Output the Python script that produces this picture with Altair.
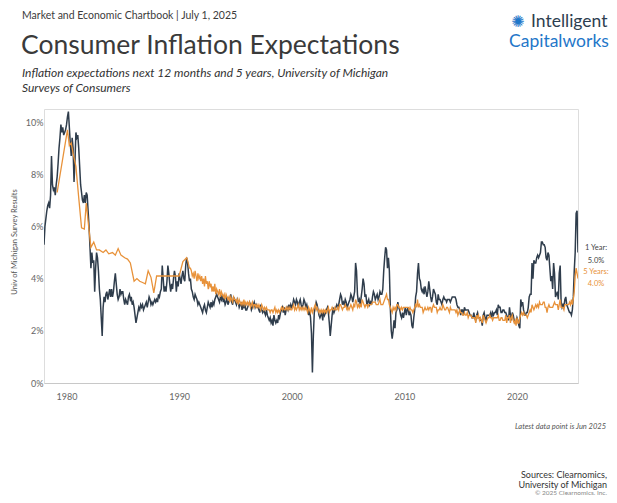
import altair as alt
import pandas as pd

# ---------------- data (University of Michigan survey, % expected inflation) ----------------
one_year_1978_1989 = [
    5.3, 6.0, 6.3, 6.6, 6.8, 6.9, 6.7, 7.2, 8.7, 7.6, 7.4, 7.5,
    7.2, 7.6, 7.9, 8.4, 9.0, 9.4, 9.9, 9.6, 9.8, 9.5, 9.6, 9.7,
    9.9, 10.2, 10.4, 9.8, 9.2, 8.7, 9.4, 9.0, 7.7, 8.5, 9.6, 9.4,
    9.5, 9.0, 8.3, 7.6, 7.3, 7.0, 6.9, 7.2, 6.9, 7.3, 7.2, 6.6,
    6.0, 5.2, 4.4, 5.0, 4.6, 4.7, 3.5, 4.4, 5.0, 4.8, 4.3, 3.6,
    3.2, 2.5, 1.8, 2.9, 3.3, 3.1, 3.4, 3.5, 3.2, 3.4, 3.6, 3.3,
    3.6, 3.3, 3.5, 3.9, 4.2, 3.8, 3.4, 3.2, 3.3, 3.6, 3.4, 3.5,
    3.5, 3.2, 3.0, 3.2, 3.1, 3.0, 3.3, 3.4, 3.2, 3.3, 3.0, 3.1,
    2.9, 2.6, 2.3, 2.5, 2.7, 2.9, 2.8, 3.0, 2.9, 3.0, 2.8, 2.9,
    3.0, 3.1, 2.9, 3.1, 3.3, 3.2, 3.0, 3.1, 3.0, 3.1, 3.2, 3.1,
    3.2, 3.1, 3.4, 3.3, 3.5, 3.6, 4.5, 4.0, 3.5, 3.7, 3.5, 3.9,
    4.5, 4.2, 3.8, 3.5, 3.8, 3.6, 4.0, 4.3, 4.1, 3.5, 3.9, 3.7,
]
one_year_1990_1999 = [
    4.2, 4.0, 3.8, 4.1, 4.3, 4.0, 3.9, 4.5, 4.8, 4.6, 4.2, 3.9,
    4.0, 3.6, 3.5, 3.3, 3.2, 3.4, 3.3, 3.2, 3.0, 3.1, 3.0, 2.9,
    2.8, 2.7, 2.9, 3.0, 2.8, 2.7, 2.9, 3.1, 3.0, 2.9, 3.1, 2.9,
    3.1, 3.0, 3.2, 3.3, 3.4, 3.3, 3.2, 3.1, 3.3, 3.2, 3.4, 3.1,
    3.2, 3.0, 3.1, 3.3, 3.0, 3.1, 3.2, 3.4, 3.1, 3.0, 3.3, 3.2,
    3.1, 3.0, 3.2, 3.1, 2.9, 3.0, 3.1, 2.8, 3.0, 2.9, 3.0, 2.8,
    2.8, 2.9, 3.0, 3.1, 3.0, 2.8, 2.9, 3.0, 3.1, 2.9, 3.0, 2.9,
    2.9, 2.8, 2.7, 3.0, 2.8, 2.7, 2.8, 2.7, 2.6, 2.8, 2.6, 2.5,
    2.4, 2.5, 2.3, 2.4, 2.2, 2.6, 2.4, 2.3, 2.4, 2.3, 2.6, 2.5,
    2.7, 2.8, 2.9, 2.7, 2.9, 2.6, 2.8, 2.9, 2.8, 3.0, 2.8, 3.0,
]
one_year_2000_2009 = [
    2.9, 3.0, 3.2, 3.1, 3.0, 3.2, 3.1, 2.9, 3.1, 3.2, 3.0, 2.9,
    3.0, 3.2, 3.1, 2.9, 3.0, 2.8, 2.6, 2.8, 2.5, 1.9, 0.4, 1.8,
    2.7, 2.9, 3.1, 3.0, 2.8, 2.6, 2.5, 2.6, 2.7, 2.4, 2.8, 2.6,
    2.7, 2.8, 2.9, 2.7, 2.3, 1.8, 2.2, 2.6, 2.9, 2.7, 2.8, 2.9,
    3.0, 2.9, 3.0, 3.2, 3.4, 3.3, 3.0, 3.1, 3.0, 3.2, 3.1, 2.9,
    3.0, 3.1, 3.2, 3.4, 3.3, 3.1, 3.3, 3.5, 4.6, 4.3, 3.4, 3.1,
    3.2, 3.0, 3.3, 3.6, 4.0, 3.8, 3.3, 3.4, 3.0, 3.1, 3.2, 3.0,
    3.1, 3.0, 3.3, 3.5, 3.4, 3.2, 3.3, 3.4, 3.2, 3.3, 3.5, 3.4,
    3.4, 3.6, 4.3, 4.8, 5.2, 5.1, 4.4, 4.8, 4.3, 2.9, 2.0, 1.7,
    2.0, 2.4, 2.1, 2.7, 2.8, 3.1, 2.9, 2.8, 2.6, 2.5, 2.7, 2.5,
]
one_year_2010_2019 = [
    2.7, 2.9, 2.6, 2.8, 2.9, 2.6, 2.7, 2.6, 2.2, 2.1, 2.5, 2.8,
    3.3, 3.5, 4.2, 4.6, 4.0, 3.9, 3.6, 3.5, 3.6, 3.4, 3.7, 3.5,
    3.3, 3.5, 3.9, 3.6, 3.3, 3.1, 3.3, 3.6, 3.5, 3.4, 3.1, 3.0,
    3.4, 3.2, 3.2, 3.1, 3.0, 3.2, 3.3, 3.2, 3.2, 3.1, 3.2, 3.2,
    3.2, 3.1, 3.2, 3.3, 3.3, 3.3, 3.3, 3.2, 3.0, 2.9, 2.9, 2.8,
    2.6, 2.8, 2.8, 2.6, 2.9, 2.8, 2.8, 2.8, 2.8, 2.7, 2.6, 2.6,
    2.5, 2.5, 2.7, 2.5, 2.4, 2.6, 2.7, 2.5, 2.5, 2.4, 2.4, 2.2,
    2.6, 2.7, 2.5, 2.4, 2.6, 2.6, 2.6, 2.6, 2.7, 2.5, 2.7, 2.6,
    2.7, 2.7, 2.8, 2.6, 3.0, 2.9, 2.9, 2.7, 2.7, 2.8, 2.8, 2.7,
    2.7, 2.6, 2.5, 2.4, 2.9, 2.6, 2.4, 2.7, 2.6, 2.4, 2.3, 2.3,
]
one_year_2020_2025 = [
    2.5, 2.4, 2.2, 2.1, 3.2, 3.0, 3.1, 2.8, 2.6, 2.6, 2.7, 2.7,
    2.9, 3.3, 3.4, 3.4, 4.6, 4.0, 4.7, 4.6, 4.6, 4.8, 4.9, 4.8,
    4.9, 5.0, 5.4, 5.4, 5.3, 5.3, 5.2, 4.8, 4.7, 5.0, 4.9, 4.4,
    3.9, 4.1, 3.6, 4.6, 4.2, 3.3, 3.4, 3.5, 3.2, 4.2, 4.5, 3.1,
    2.9, 3.0, 2.9, 3.2, 3.3, 3.0, 2.9, 2.8, 2.7, 2.7, 2.6, 2.8,
    3.3, 4.3, 5.0, 6.5, 6.6, 5.0,
]

# 5-year series: sparse survey months before 1991, monthly afterwards
five_year_sparse_dates = [
    "1979-03", "1980-02", "1980-04", "1980-06", "1980-08", "1980-11",
    "1981-02", "1981-05", "1981-08", "1981-10", "1981-12",
    "1982-03", "1982-06", "1982-09", "1982-12",
    "1983-04", "1983-07", "1983-10",
    "1984-02", "1984-05", "1984-08", "1984-11",
    "1985-03", "1985-06", "1985-09",
    "1986-01", "1986-04", "1986-07", "1986-10",
    "1987-01", "1987-04", "1987-07", "1987-10", "1988-01",
    "1990-01", "1990-05", "1990-09", "1990-10", "1990-12",
]
five_year_sparse_values = [
    7.3, 9.7, 9.1, 9.2, 8.8, 8.3,
    7.1, 5.95, 5.9, 6.9, 6.2,
    5.2, 5.4, 5.1, 5.1,
    5.0, 5.1, 4.95,
    5.0, 4.9, 5.15, 4.9,
    4.8, 4.75, 4.6,
    3.9, 4.0, 3.9, 3.85,
    3.8, 4.3, 4.05, 3.45, 4.1,
    4.1, 4.65, 4.8, 4.7, 4.4,
]
five_year_1991_1999 = [
    4.4, 4.3, 4.1, 4.2, 4.0, 4.3, 4.1, 3.9, 4.2, 4.0, 4.1, 3.9,
    4.1, 3.8, 4.0, 3.7, 4.1, 3.8, 3.9, 3.6, 3.9, 3.7, 3.8, 3.5,
    3.7, 3.5, 3.8, 3.4, 3.6, 3.5, 3.4, 3.6, 3.3, 3.5, 3.4, 3.3,
    3.4, 3.2, 3.4, 3.3, 3.2, 3.3, 3.1, 3.3, 3.2, 3.1, 3.3, 3.2,
    3.2, 3.1, 3.2, 3.0, 3.2, 3.1, 3.0, 3.1, 3.0, 3.2, 3.0, 3.1,
    3.0, 3.1, 3.0, 3.1, 2.9, 3.0, 3.1, 2.9, 3.0, 3.0, 2.9, 3.0,
    2.9, 3.0, 2.9, 2.8, 3.0, 2.9, 2.8, 2.9, 2.8, 2.9, 2.8, 2.8,
    2.8, 2.7, 2.8, 2.8, 2.7, 2.8, 2.9, 2.7, 2.8, 2.7, 2.8, 2.7,
    2.8, 2.9, 2.8, 2.9, 2.8, 2.8, 2.9, 2.8, 2.9, 2.8, 2.9, 2.8,
]
five_year_2000_2009 = [
    2.8, 2.9, 3.0, 2.8, 2.9, 2.8, 2.9, 3.0, 2.8, 2.9, 2.8, 2.9,
    2.8, 2.9, 2.8, 2.9, 2.8, 2.7, 2.9, 2.8, 2.7, 2.9, 2.7, 2.8,
    2.9, 3.0, 2.8, 2.9, 2.8, 2.7, 2.8, 2.7, 2.8, 2.7, 2.8, 2.7,
    2.8, 2.7, 2.8, 2.9, 2.7, 2.8, 2.8, 2.9, 2.8, 2.8, 2.9, 2.8,
    2.8, 2.9, 2.8, 3.0, 3.0, 2.9, 2.8, 2.9, 2.9, 3.0, 2.9, 2.8,
    2.9, 2.8, 2.9, 3.0, 2.9, 2.8, 3.0, 2.9, 3.2, 3.1, 2.9, 3.0,
    2.9, 3.0, 2.9, 3.2, 3.1, 3.0, 2.9, 3.0, 3.0, 2.9, 3.0, 3.0,
    3.0, 3.0, 3.1, 3.1, 3.1, 3.1, 3.0, 3.0, 3.0, 3.1, 3.2, 3.0,
    3.0, 3.0, 3.1, 3.2, 3.3, 3.4, 3.2, 3.2, 3.0, 2.9, 2.8, 2.7,
    2.9, 2.8, 2.9, 2.8, 3.0, 3.0, 2.9, 2.9, 2.8, 2.9, 2.8, 2.9,
]
five_year_2010_2019 = [
    2.9, 2.9, 2.9, 2.9, 2.9, 2.8, 2.9, 2.8, 2.8, 2.7, 2.8, 2.9,
    3.0, 2.9, 3.2, 2.9, 3.0, 2.9, 2.9, 2.9, 2.7, 2.8, 2.9, 2.8,
    2.8, 2.9, 2.8, 2.9, 2.9, 2.7, 2.9, 3.0, 2.9, 2.9, 2.9, 2.7,
    2.8, 2.8, 2.9, 2.8, 2.8, 3.0, 2.9, 2.8, 2.8, 2.9, 2.9, 2.8,
    2.7, 2.9, 2.8, 2.8, 2.8, 2.8, 2.8, 2.7, 2.8, 2.6, 2.7, 2.8,
    2.7, 2.7, 2.6, 2.6, 2.7, 2.6, 2.6, 2.7, 2.5, 2.6, 2.6, 2.6,
    2.5, 2.5, 2.5, 2.5, 2.3, 2.6, 2.5, 2.6, 2.4, 2.5, 2.4, 2.3,
    2.6, 2.5, 2.4, 2.3, 2.4, 2.5, 2.5, 2.6, 2.5, 2.5, 2.4, 2.5,
    2.5, 2.5, 2.5, 2.5, 2.6, 2.4, 2.4, 2.5, 2.5, 2.4, 2.4, 2.4,
    2.6, 2.3, 2.5, 2.5, 2.6, 2.3, 2.5, 2.6, 2.4, 2.3, 2.4, 2.2,
]
five_year_2020_2025 = [
    2.5, 2.3, 2.3, 2.5, 2.6, 2.7, 2.6, 2.7, 2.6, 2.6, 2.6, 2.5,
    2.6, 2.7, 2.8, 2.7, 3.0, 2.9, 2.8, 2.9, 3.0, 2.9, 3.0, 2.9,
    3.1, 3.0, 3.0, 3.0, 3.1, 3.1, 2.9, 2.9, 2.7, 2.9, 3.0, 2.9,
    2.9, 2.9, 2.9, 3.0, 3.1, 3.0, 3.0, 3.0, 2.8, 3.0, 3.2, 2.9,
    2.9, 2.9, 2.8, 3.0, 3.0, 3.0, 3.0, 3.0, 3.1, 3.0, 3.2, 3.0,
    3.2, 3.5, 4.1, 4.4, 4.2, 4.0,
]

series_names = ["1 Year", "5 Years"]
series_colors = ["#2f3d4c", "#e8923a"]
x_tick_years = [1980, 1990, 2000, 2010, 2020]
y_tick_values = [0, 2, 4, 6, 8, 10]


# ---------------- build tables ----------------
def monthly(values, start_year):
    return [start_year + i / 12 for i in range(len(values))], list(values)


rows = []
t, v = monthly(one_year_1978_1989 + one_year_1990_1999 + one_year_2000_2009
               + one_year_2010_2019 + one_year_2020_2025, 1978)
rows += [{"t": a, "v": b, "s": "1 Year"} for a, b in zip(t, v)]
one_df = pd.DataFrame(rows)

rows = []
for d, val in zip(five_year_sparse_dates, five_year_sparse_values):
    yy, mm = d.split("-")
    rows.append({"t": int(yy) + (int(mm) - 1) / 12, "v": val, "s": "5 Years"})
t, v = monthly(five_year_1991_1999, 1991)
rows += [{"t": a, "v": b, "s": "5 Years"} for a, b in zip(t, v)]
t, v = monthly(five_year_2000_2009 + five_year_2010_2019 + five_year_2020_2025, 2000)
rows += [{"t": a, "v": b, "s": "5 Years"} for a, b in zip(t, v)]
five_df = pd.DataFrame(rows)

t_end = 2025 + 5 / 12

x_enc = alt.X("t:Q", scale=alt.Scale(domain=[1978, t_end], nice=False, zero=False),
              axis=alt.Axis(values=x_tick_years, format="d", title=None, grid=False,
                            ticks=False, domain=True, domainColor="#c8c8c8",
                            labelFont="Lato", labelFontSize=9, labelColor="#666666",
                            labelPadding=9))
y_enc = alt.Y("v:Q", scale=alt.Scale(domain=[0, 10.5], nice=False),
              axis=alt.Axis(values=y_tick_values, labelExpr="datum.value + '%'",
                            title=None, grid=False, ticks=False, domain=False,
                            labelFont="Lato", labelFontSize=9, labelColor="#666666",
                            labelPadding=1))
color_enc = alt.Color("s:N", scale=alt.Scale(domain=series_names, range=series_colors),
                      legend=None)

line1 = alt.Chart(one_df).mark_line(strokeWidth=1.5, clip=True).encode(
    x=x_enc, y=y_enc, color=color_enc)
line5 = alt.Chart(five_df).mark_line(strokeWidth=1.3, clip=True).encode(
    x=x_enc, y=y_enc, color=color_enc)


def txt(text, x, y, size, color, align="left", style="normal", angle=0, weight="normal",
        font="Lato"):
    props = dict(align=align, baseline="middle", fontSize=size, color=color,
                 font=font, fontStyle=style, fontWeight=weight)
    if angle:
        props["angle"] = angle
    return alt.Chart(pd.DataFrame({"label": [text]})).mark_text(**props).encode(
        x=alt.value(x), y=alt.value(y), text="label:N")


# positions relative to plot origin (page 44,109)
texts = [
    txt("Market and Economic Chartbook | July 1, 2025", -22, -93, 10.5, "#3c3c3c"),
    txt("Consumer Inflation Expectations", -23, -63, 26.5, "#3a3a3a"),
    txt("Inflation expectations next 12 months and 5 years, University of Michigan",
        -22, -36, 12, "#333333", style="italic"),
    txt("Surveys of Consumers", -22, -21, 12, "#333333", style="italic"),
    txt("✺", 474, -87, 16, "#1f77c9", align="center", font="DejaVu Sans"),
    txt("Intelligent", 487, -87, 17.5, "#2d3e50"),
    txt("Capitalworks", 465, -67, 17.5, "#1f77c9"),
    txt("Univ of Michigan Survey Results", -29, 133, 7.5, "#555555", align="center",
        angle=270),
    txt("1 Year:", 552, 139, 7.5, "#444444", align="center"),
    txt(f"{one_year_2020_2025[-1]:.1f}%", 552, 152, 7.5, "#444444", align="center"),
    txt("5 Years:", 552, 163, 7.5, "#e8923a", align="center"),
    txt(f"{five_year_2020_2025[-1]:.1f}%", 552, 175, 7.5, "#e8923a", align="center"),
    txt("Latest data point is Jun 2025", 562, 318, 7.5, "#555555", align="right",
        style="italic"),
    txt("Sources: Clearnomics,", 563, 366, 9, "#333333", align="right"),
    txt("University of Michigan", 563, 376, 9, "#333333", align="right"),
    txt("© 2025 Clearnomics, Inc.", 563, 384, 6.5, "#888888", align="right"),
]

chart = alt.layer(line1, line5, *texts).properties(
    width=534, height=274,
    autosize=alt.AutoSizeParams(type="none"),
    padding={"left": 36, "top": 101, "right": 31, "bottom": 112},
).configure_view(stroke=None).configure(background="white")

chart.save("out.html", embed_options={"renderer": "svg", "actions": False})
